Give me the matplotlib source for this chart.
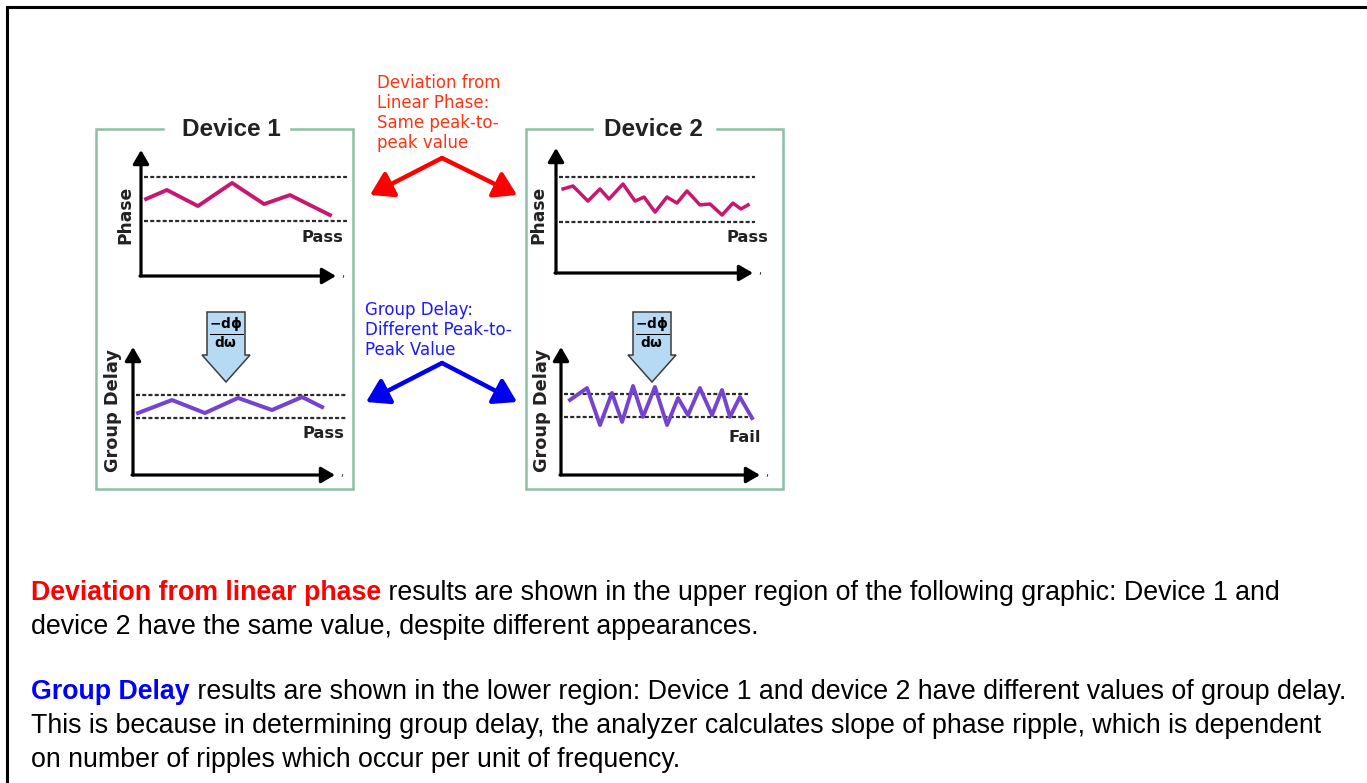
import matplotlib.pyplot as plt
from matplotlib.patches import Polygon

W, H = 1367, 783

# ripple samples: x in frequency units along the axis (0..10),
# y in units of the pass limit (dashed limit lines sit at -1 and +1)
d1_phase_x = [0.26, 1.33, 2.92, 4.67, 6.31, 7.64, 9.69]
d1_phase_y = [0.0, 0.41, -0.32, 0.73, -0.23, 0.18, -0.73]

d2_phase_x = [0.36, 0.86, 1.62, 2.23, 2.69, 3.40, 4.01, 4.47, 5.03,
              5.63, 6.14, 6.65, 7.31, 7.82, 8.43, 8.98, 9.39, 9.75]
d2_phase_y = [0.47, 0.60, -0.07, 0.47, 0.02, 0.69, -0.07, 0.11, -0.56,
              0.11, -0.16, 0.38, -0.24, -0.20, -0.69, -0.16, -0.42, -0.24]

d1_gd_x = [0.25, 1.93, 3.56, 5.20, 6.88, 8.37, 9.36]
d1_gd_y = [-0.61, 0.52, -0.61, 0.70, -0.35, 0.78, -0.09]

d2_gd_x = [0.45, 1.31, 1.96, 2.56, 3.07, 3.62, 4.12, 4.72, 5.33,
           5.88, 6.38, 6.98, 7.59, 8.09, 8.49, 8.99, 9.60]
d2_gd_y = [0.48, 1.52, -1.70, 1.09, -1.43, 1.70, -0.99, 1.61, -1.70,
           0.65, -0.83, 1.52, -0.83, 1.35, -0.99, 0.74, -1.09]

device_names = ["Device 1", "Device 2"]
phase_verdicts = ["Pass", "Pass"]
gd_verdicts = ["Pass", "Fail"]

red_note = ["Deviation from", "Linear Phase:", "Same peak-to-", "peak value"]
blue_note = ["Group Delay:", "Different Peak-to-", "Peak Value"]

para1_key = "Deviation from linear phase"
para1_rest = " results are shown in the upper region of the following graphic: Device 1 and"
para1_line2 = "device 2 have the same value, despite different appearances."
para2_key = "Group Delay"
para2_rest = " results are shown in the lower region: Device 1 and device 2 have different values of group delay."
para2_line2 = "This is because in determining group delay, the analyzer calculates slope of phase ripple, which is dependent"
para2_line3 = "on number of ripples which occur per unit of frequency."

PHASE_C = '#c8176f'
GD_C = '#7443d0'
BOX_C = '#8dbfa5'
TXT = '#222222'

fig = plt.figure(figsize=(W / 100, H / 100), dpi=100)
ax = fig.add_axes([0, 0, 1, 1])
ax.set_xlim(0, W)
ax.set_ylim(H, 0)
ax.axis('off')

# outer frame (top and left only)
ax.plot([7, 7, W], [H, 7, 7], color='k', lw=2.2, solid_joinstyle='miter')


def device_box(x0, x1, gap0, gap1, name, cx):
    y0, y1 = 129, 489
    ax.plot([gap0, x0, x0, x1, x1, gap1], [y0, y0, y1, y1, y0, y0],
            color=BOX_C, lw=1.8, solid_joinstyle='miter')
    ax.text(cx, 136, name, ha='center', va='baseline', fontsize=17.5,
            fontweight='bold', family='Liberation Sans', color=TXT)


def panel(box, xs, ys, color, half, dash_end, lw):
    # box = (y-axis x, arrow end x, band centre y, top y, bottom y) in pixels
    x0, x1, yc, yt, yb = box
    pax = fig.add_axes([x0 / W, 1 - yb / H, (x1 - x0) / W, (yb - yt) / H])
    pax.set_xlim(0, 10)
    pax.set_ylim((yc - yb) / half, (yc - yt) / half)
    pax.axis('off')
    pax.patch.set_alpha(0)
    for lim in (-1, 1):
        pax.plot([0.15, dash_end], [lim, lim], color='#2a2a2a', lw=1.6,
                 ls=(0, (1.8, 1.0)), clip_on=False)
    pax.plot(xs, ys, color=color, lw=lw, clip_on=False)
    # axes with arrowheads
    style = '-|>,head_length=0.55,head_width=0.32'
    ax.annotate('', xy=(x0, yt), xytext=(x0, yb),
                arrowprops=dict(arrowstyle=style, lw=2.3, color='k', shrinkA=0,
                                shrinkB=0, mutation_scale=15))
    ax.annotate('', xy=(x1, yb), xytext=(x0 - 1, yb),
                arrowprops=dict(arrowstyle=style, lw=2.3, color='k', shrinkA=0,
                                shrinkB=0, mutation_scale=15))
    ax.text(x1 + 7, yb - 2, ',', fontsize=7, color=TXT, ha='center', va='center')


def deriv_icon(cx, top):
    pts = [(cx - 19, top), (cx + 19, top), (cx + 19, top + 43), (cx + 24, top + 43),
           (cx, top + 70), (cx - 24, top + 43), (cx - 19, top + 43)]
    ax.add_patch(Polygon(pts, closed=True, fc='#b7daf4', ec='#3c3c3c', lw=1.1, zorder=3))
    ax.text(cx, top + 21, r'$\mathbf{\frac{-d\phi}{d\omega}}$', fontsize=14,
            ha='center', va='center', color='k', zorder=4)


device_box(96, 353, 163, 291, device_names[0], 231)
device_box(526, 783, 592, 717, device_names[1], 653)

panel((141, 336, 199, 150, 276), d1_phase_x, d1_phase_y, PHASE_C, 22, 10.55, 2.8)
panel((556, 753, 199.5, 148, 273), d2_phase_x, d2_phase_y, PHASE_C, 22.5, 10.1, 2.5)
panel((133, 335, 406, 347, 475), d1_gd_x, d1_gd_y, GD_C, 11.5, 10.6, 2.9)
panel((561, 760, 405.5, 347, 475), d2_gd_x, d2_gd_y, GD_C, 11.5, 9.4, 2.8)

# axis labels and verdicts
lab = dict(fontweight='bold', family='DejaVu Sans', color=TXT, ha='center', va='center')
ax.text(125, 215, 'Phase', rotation=90, fontsize=12.3, **lab)
ax.text(538, 215, 'Phase', rotation=90, fontsize=12.3, **lab)
ax.text(113, 411, 'Group Delay', rotation=90, fontsize=12.8, **lab)
ax.text(542, 411, 'Group Delay', rotation=90, fontsize=12.8, **lab)
ax.text(322, 238, phase_verdicts[0], fontsize=11.8, **lab)
ax.text(747, 238, phase_verdicts[1], fontsize=11.8, **lab)
ax.text(323, 433, gd_verdicts[0], fontsize=11.8, **lab)
ax.text(745, 437, gd_verdicts[1], fontsize=11.8, **lab)

deriv_icon(226, 312)
deriv_icon(652, 312)

# V shaped arrows between the devices
head = '-|>,head_length=0.45,head_width=0.28'
for tip in [(370, 195), (517, 195)]:
    ax.annotate('', xy=tip, xytext=(442, 158),
                arrowprops=dict(arrowstyle=head, lw=3.2, color='#ff0000',
                                shrinkA=0, shrinkB=0, mutation_scale=30))
for tip in [(366, 402), (517, 402)]:
    ax.annotate('', xy=tip, xytext=(442, 363),
                arrowprops=dict(arrowstyle=head, lw=3.2, color='#0000ee',
                                shrinkA=0, shrinkB=0, mutation_scale=30))

for i, line in enumerate(red_note):
    ax.text(377, 88 + 20 * i, line, fontsize=12, color='#ff3311',
            family='DejaVu Sans', va='baseline', ha='left')
for i, line in enumerate(blue_note):
    ax.text(365, 315 + 20 * i, line, fontsize=12, color='#1a1aff',
            family='DejaVu Sans', va='baseline', ha='left')

# explanatory paragraphs
body = dict(fontsize=19.25, family='Liberation Sans', va='baseline', ha='left')
renderer = fig.canvas.get_renderer()


def key_line(y, key, rest, color):
    t = ax.text(31, y, key, color=color, fontweight='bold', **body)
    bb = t.get_window_extent(renderer)
    ax.text(bb.x1, y, rest, color='k', **body)


key_line(600, para1_key, para1_rest, '#ff0000')
ax.text(31, 634, para1_line2, color='k', **body)
key_line(699, para2_key, para2_rest, '#0000ff')
ax.text(31, 733, para2_line2, color='k', **body)
ax.text(31, 767, para2_line3, color='k', **body)

fig.savefig('out.png', dpi=100)
